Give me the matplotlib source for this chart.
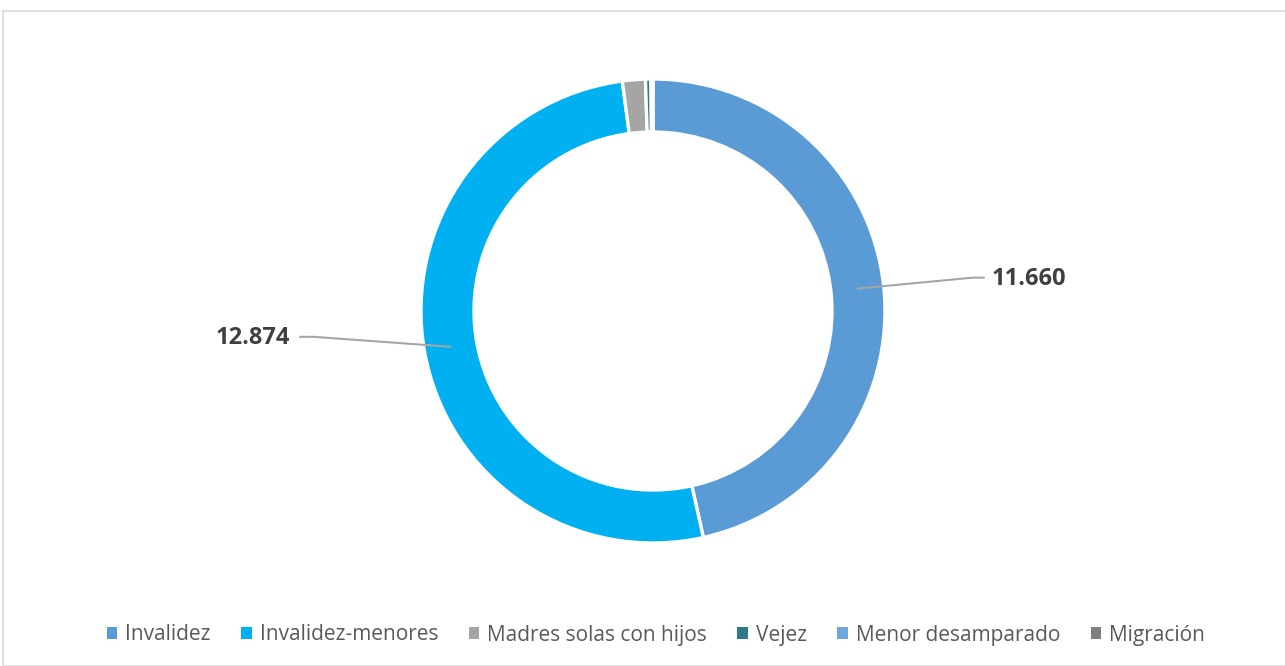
import matplotlib
matplotlib.use("Agg")
import matplotlib.pyplot as plt
from matplotlib.patches import Rectangle
import numpy as np

categories = ["Invalidez", "Invalidez-menores", "Madres solas con hijos", "Vejez",
              "Menor desamparado", "Migración"]
values = [11660, 12874, 400, 95, 20, 15]
labels_shown = ["11.660", "12.874", None, None, None, None]
colors = ["#5B9BD5", "#00B0F0", "#A5A5A5", "#2E7A88", "#6FA8DC", "#7F7F7F"]

plt.rcParams['font.family'] = ['Open Sans', 'DejaVu Sans']

W, H = 1285, 666
fig = plt.figure(figsize=(W / 100, H / 100), dpi=100)
ax = fig.add_axes([0, 0, 1, 1])

cx, cy = 653, H - 311
R = 232
width = 53

wedges, _ = ax.pie(values, colors=colors, startangle=90, counterclock=False,
                   radius=R, center=(cx, cy),
                   wedgeprops=dict(width=width, edgecolor="white", linewidth=2.4))
ax.set_xlim(0, W)
ax.set_ylim(0, H)
ax.set_aspect("equal")
ax.axis("off")

# leader lines + labels
offsets = {0: (116, 11, 12, "left"), 1: (-137, 10, -15, "right")}
for i, w in enumerate(wedges):
    if labels_shown[i] is None:
        continue
    ang = np.deg2rad((w.theta1 + w.theta2) / 2)
    r = R - 27
    ax_, ay_ = cx + r * np.cos(ang), cy + r * np.sin(ang)
    dx, dy, hx, ha = offsets[i]
    ex, ey = ax_ + dx, ay_ + dy
    ax.plot([ax_, ex, ex + hx], [ay_, ey, ey], color="#A6A6A6", lw=1.5,
            solid_capstyle="butt")
    tx = ex + hx + (7 if ha == "left" else -9)
    ax.text(tx, ey - 1, labels_shown[i], ha=ha, va="center", fontsize=17,
            fontweight="bold", color="#404040")

# frame
fig.patches.append(Rectangle((3 / W, 0), (W - 2) / W, (H - 11) / H,
                             transform=fig.transFigure, fill=False,
                             edgecolor="#D9D9D9", lw=1.2))

leg = ax.legend(wedges, categories, loc="center", bbox_to_anchor=(656 / W, (H - 635) / H),
                bbox_transform=fig.transFigure, ncol=6, frameon=False,
                fontsize=15, handlelength=0.5, handleheight=0.5,
                handletextpad=0.4, columnspacing=1.45, labelcolor="#595959")
for h in leg.legend_handles:
    h.set_edgecolor("none")

fig.savefig("out.png", dpi=100)
